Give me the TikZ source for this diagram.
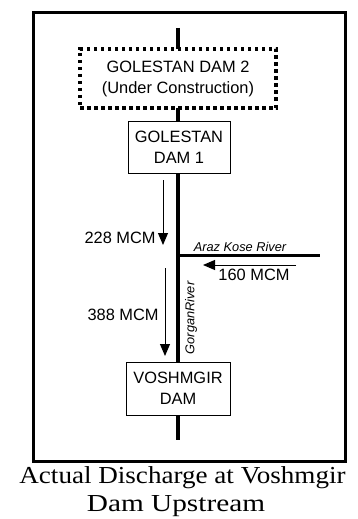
\documentclass[tikz,border=0pt]{standalone}
\usepackage{fontspec}
\setmainfont{Liberation Serif}
\setsansfont{Liberation Sans}
\usetikzlibrary{arrows.meta}
\begin{document}
\begin{tikzpicture}[x=0.5pt, y=-0.5pt,
  damstyle/.style={draw, line width=0.5pt, fill=white, align=center, inner sep=0pt,
    font=\sffamily\fontsize{8.2}{10.5}\selectfont},
  flow/.style={line width=0.5pt, -{Triangle[length=6pt,width=5pt]}},
  lbl/.style={font=\sffamily\fontsize{8.2}{10}\selectfont, inner sep=0pt},
  rivername/.style={font=\sffamily\itshape\fontsize{6.4}{7.5}\selectfont, inner sep=0pt},
  captext/.style={anchor=base, inner sep=0pt, font=\fontsize{12.2}{15}\selectfont}]
\useasboundingbox (0,0) rectangle (358,519);
% frame
\draw[line width=1.5pt] (33,13) rectangle (345,461);
% rivers
\coordinate (src) at (178,28);
\coordinate (sink) at (178,440);
\coordinate (junc) at (178,255);
\coordinate (trib) at (320,255);
\draw[line width=2pt] (src) -- (sink);
\draw[line width=1.5pt] (junc) -- (trib);
% dams
\node[damstyle, line width=1.75pt, dash pattern=on 1.75pt off 1.75pt,
  minimum width=98pt, minimum height=29.5pt] (dam2) at (178,78.5)
  {GOLESTAN DAM 2\\(Under Construction)};
\node[damstyle, minimum width=51pt, minimum height=25.5pt] (dam1) at (179,147.5)
  {GOLESTAN\\DAM 1};
\node[damstyle, minimum width=52pt, minimum height=26.5pt] (voshmgir) at (178,388.5)
  {VOSHMGIR\\DAM};
% discharges
\coordinate (f1s) at (163,180); \coordinate (f1e) at (163,245);
\coordinate (f2s) at (165,268); \coordinate (f2e) at (165,356);
\coordinate (f3s) at (296,265); \coordinate (f3e) at (203,265);
\draw[flow] (f1s) -- (f1e);
\draw[flow] (f2s) -- (f2e);
\draw[flow] (f3s) -- (f3e);
\node[lbl, anchor=east] (q228) at (156,238) {228 MCM};
\node[lbl, anchor=east] (q388) at (159,315) {388 MCM};
\node[lbl] (q160) at (254,275) {160 MCM};
% river names
\node[rivername] (araz) at (240,247) {Araz Kose River};
\node[rivername, rotate=90] (gorgan) at (191,318) {GorganRiver};
% caption
\node[captext] (caption1) at (182.5,483) {\scalebox{1.11}[1]{Actual Discharge at Voshmgir}};
\node[captext] (caption2) at (176,511) {\scalebox{1.2}[1]{Dam Upstream}};
\end{tikzpicture}
\end{document}
